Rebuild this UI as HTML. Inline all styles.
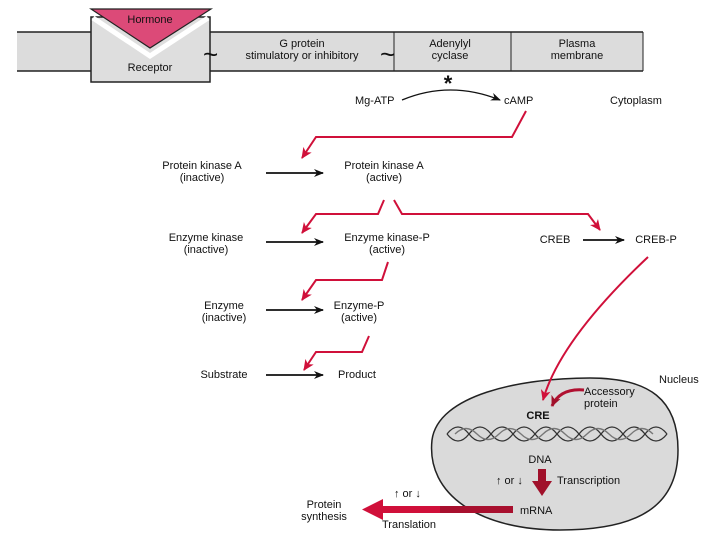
<!DOCTYPE html>
<html><head><meta charset="utf-8"><style>
body{margin:0;background:#fff}
svg{display:block}
text{font-family:"Liberation Sans",sans-serif;font-size:11px;fill:#111}
</style></head><body>
<svg width="720" height="540" viewBox="0 0 720 540">
<defs>
<marker id="ba" markerWidth="10" markerHeight="8" refX="9" refY="4" orient="auto" markerUnits="userSpaceOnUse"><path d="M0,0 L10,4 L0,8 L3,4z" fill="#111"/></marker>
<marker id="ra" markerWidth="12" markerHeight="10" refX="10" refY="5" orient="auto" markerUnits="userSpaceOnUse"><path d="M0,0 L11,5 L0,10 L3,5z" fill="#d0103a"/></marker>
<marker id="da" markerWidth="12" markerHeight="10" refX="10" refY="5" orient="auto" markerUnits="userSpaceOnUse"><path d="M0,0 L11,5 L0,10 L3,5z" fill="#a0102a"/></marker>
</defs>
<!-- membrane -->
<rect x="17" y="32" width="626" height="39" fill="#dcdcdc"/>
<line x1="17" y1="32" x2="643" y2="32" stroke="#222" stroke-width="1.5"/>
<line x1="17" y1="71" x2="643" y2="71" stroke="#222" stroke-width="1.5"/>
<line x1="210" y1="32" x2="210" y2="71" stroke="#222"/>
<line x1="394" y1="32" x2="394" y2="71" stroke="#222"/>
<line x1="511" y1="32" x2="511" y2="71" stroke="#222"/>
<line x1="643" y1="32" x2="643" y2="71" stroke="#222"/>
<rect x="91" y="17" width="119" height="65" fill="#dedede" stroke="#222" stroke-width="1.5"/>
<path d="M93,18 L150,56 L208,18" fill="none" stroke="#fff" stroke-width="5"/>
<path d="M91,9 L211,9 L150,48 Z" fill="#dc4a78" stroke="#222" stroke-width="1.2"/>
<text x="150" y="23" text-anchor="middle">Hormone</text>
<text x="150" y="71" text-anchor="middle">Receptor</text>
<text x="203" y="63" style="font-size:26px">~</text>
<text x="302" y="47" text-anchor="middle">G protein</text>
<text x="302" y="59" text-anchor="middle">stimulatory or inhibitory</text>
<text x="380" y="63" style="font-size:26px">~</text>
<text x="450" y="47" text-anchor="middle">Adenylyl</text>
<text x="450" y="59" text-anchor="middle">cyclase</text>
<text x="577" y="47" text-anchor="middle">Plasma</text>
<text x="577" y="59" text-anchor="middle">membrane</text>
<text x="448" y="91" text-anchor="middle" style="font-size:22px;font-weight:bold">*</text>
<!-- Mg-ATP -->
<text x="355" y="104">Mg-ATP</text>
<path d="M402,100 Q450,80 500,100" fill="none" stroke="#111" stroke-width="1.3" marker-end="url(#ba)"/>
<text x="504" y="104">cAMP</text>
<text x="610" y="104">Cytoplasm</text>
<!-- nucleus -->
<path d="M432,440 C438,395 520,378 590,378 C650,378 678,400 678,450 C678,505 640,530 560,530 C480,530 426,495 432,440 Z" fill="#dadada" stroke="#222" stroke-width="1.5"/>
<!-- red cascade -->
<g fill="none" stroke="#d0103a" stroke-width="2">
<path d="M526,111 L512,137 L316,137 L302,158" marker-end="url(#ra)"/>
<path d="M384,200 L378,214 L316,214 L302,233" marker-end="url(#ra)"/>
<path d="M394,200 L402,214 L588,214 L600,230" marker-end="url(#ra)"/>
<path d="M388,262 L382,280 L316,280 L302,300" marker-end="url(#ra)"/>
<path d="M369,336 L362,352 L316,352 L304,370" marker-end="url(#ra)"/>
<path d="M648,257 Q560,340 543,400" marker-end="url(#ra)"/>
</g>
<path d="M584,390 Q560,388 552,406" fill="none" stroke="#b01030" stroke-width="3" marker-end="url(#da)"/>
<!-- rows -->
<text x="202" y="169" text-anchor="middle">Protein kinase A</text>
<text x="202" y="181" text-anchor="middle">(inactive)</text>
<line x1="266" y1="173" x2="323" y2="173" stroke="#111" stroke-width="1.8" marker-end="url(#ba)"/>
<text x="384" y="169" text-anchor="middle">Protein kinase A</text>
<text x="384" y="181" text-anchor="middle">(active)</text>
<text x="206" y="241" text-anchor="middle">Enzyme kinase</text>
<text x="206" y="253" text-anchor="middle">(inactive)</text>
<line x1="266" y1="242" x2="323" y2="242" stroke="#111" stroke-width="1.8" marker-end="url(#ba)"/>
<text x="387" y="241" text-anchor="middle">Enzyme kinase-P</text>
<text x="387" y="253" text-anchor="middle">(active)</text>
<text x="555" y="243" text-anchor="middle">CREB</text>
<line x1="583" y1="240" x2="624" y2="240" stroke="#111" stroke-width="1.8" marker-end="url(#ba)"/>
<text x="656" y="243" text-anchor="middle">CREB-P</text>
<text x="224" y="309" text-anchor="middle">Enzyme</text>
<text x="224" y="321" text-anchor="middle">(inactive)</text>
<line x1="266" y1="310" x2="323" y2="310" stroke="#111" stroke-width="1.8" marker-end="url(#ba)"/>
<text x="359" y="309" text-anchor="middle">Enzyme-P</text>
<text x="359" y="321" text-anchor="middle">(active)</text>
<text x="224" y="378" text-anchor="middle">Substrate</text>
<line x1="266" y1="375" x2="323" y2="375" stroke="#111" stroke-width="1.8" marker-end="url(#ba)"/>
<text x="357" y="378" text-anchor="middle">Product</text>
<text x="659" y="383">Nucleus</text>
<text x="584" y="395">Accessory</text>
<text x="584" y="407">protein</text>
<text x="538" y="419" text-anchor="middle" style="font-weight:bold">CRE</text>
<g fill="none" stroke="#333" stroke-width="1.3">
<path d="M447,434 q11,-14 22,0 t22,0 t22,0 t22,0 t22,0 t22,0 t22,0 t22,0 t22,0 t22,0"/>
<path d="M447,434 q11,14 22,0 t22,0 t22,0 t22,0 t22,0 t22,0 t22,0 t22,0 t22,0 t22,0"/>
<path d="M455,434 q11,-11 22,0 t22,0 t22,0 t22,0 t22,0 t22,0 t22,0 t22,0 t22,0" stroke="#777"/>
</g>
<text x="540" y="463" text-anchor="middle">DNA</text>
<rect x="538" y="469" width="8" height="12" fill="#a0102a"/>
<path d="M532,481 L552,481 L542,496 Z" fill="#a0102a"/>
<text x="496" y="484">↑ or ↓</text>
<text x="557" y="484">Transcription</text>
<text x="520" y="514">mRNA</text>
<rect x="378" y="506" width="135" height="7" fill="#d0103a"/>
<rect x="440" y="506" width="73" height="7" fill="#a8102e"/>
<path d="M362,509.5 L383,499 L383,520 Z" fill="#d0103a"/>
<text x="394" y="497">↑ or ↓</text>
<text x="382" y="528">Translation</text>
<text x="324" y="508" text-anchor="middle">Protein</text>
<text x="324" y="520" text-anchor="middle">synthesis</text>
</svg>
</body></html>
